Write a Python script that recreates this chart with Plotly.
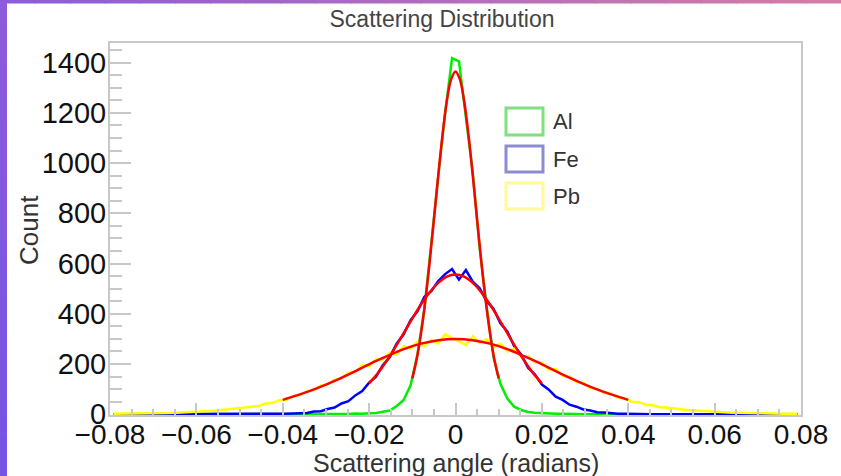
import numpy as np
import plotly.graph_objects as go

# ---------------- data ----------------
X_MIN, X_MAX, N_BINS = -0.08, 0.08, 100

AL_COUNTS = [0, 0, 0, 0, 0, 0, 0, 0, 0, 0,
             0, 0, 0, 0, 0, 0, 0, 0, 0, 0,
             0, 0, 0, 0, 0, 0, 0, 0, 0, 0,
             0, 0, 1, 1, 1, 3, 2, 4, 5, 10,
             15, 33, 57, 115, 240, 418, 668, 945, 1200, 1418,
             1405, 1185, 962, 660, 430, 228, 121, 62, 30, 17,
             9, 6, 4, 3, 2, 2, 1, 1, 0, 0,
             0, 0, 0, 0, 0, 0, 0, 0, 0, 0,
             0, 0, 0, 0, 0, 0, 0, 0, 0, 0,
             0, 0, 0, 0, 0, 0, 0, 0, 0, 0]

FE_COUNTS = [0, 0, 0, 0, 0, 0, 0, 0, 0, 0,
             0, 0, 0, 0, 0, 0, 0, 0, 0, 0,
             0, 1, 0, 1, 1, 2, 3, 4, 5, 11,
             12, 21, 27, 43, 52, 75, 92, 126, 150, 196,
             228, 282, 318, 375, 410, 468, 490, 530, 558, 578,
             536, 574, 528, 502, 450, 420, 362, 330, 270, 238,
             185, 158, 118, 98, 70, 57, 38, 30, 19, 15,
             8, 7, 4, 2, 2, 1, 0, 1, 0, 0,
             0, 0, 0, 0, 0, 0, 0, 0, 0, 0,
             0, 0, 0, 0, 0, 0, 0, 0, 0, 0]

PB_COUNTS = [2, 2, 3, 2, 3, 3, 4, 5, 5, 6,
             7, 8, 10, 11, 13, 15, 18, 22, 24, 27,
             31, 33, 43, 45, 56, 58, 72, 76, 92, 96,
             115, 118, 138, 142, 165, 168, 196, 191, 220, 218,
             245, 238, 272, 262, 289, 270, 296, 282, 318, 305,
             290, 276, 310, 284, 298, 265, 280, 250, 262, 228,
             232, 205, 206, 178, 180, 152, 150, 128, 125, 104,
             102, 85, 82, 66, 64, 50, 49, 38, 36, 28,
             27, 22, 20, 17, 15, 12, 11, 9, 8, 7,
             6, 5, 5, 4, 3, 3, 3, 2, 2, 2]

# Gaussian fit curves, sampled over each fit range (21 points each)
AL_FIT_RANGE = 0.01
AL_FIT = [142, 218, 320, 450, 604, 775, 950, 1113, 1247, 1334, 1365,
          1334, 1247, 1113, 950, 775, 604, 450, 320, 218, 142]
FE_FIT_RANGE = 0.02
FE_FIT = [123, 163, 211, 265, 323, 381, 437, 485, 523, 548, 556,
          548, 523, 485, 437, 381, 323, 265, 211, 163, 123]
PB_FIT_RANGE = 0.04
PB_FIT = [57, 79, 104, 133, 165, 199, 230, 259, 281, 295, 300,
          295, 281, 259, 230, 199, 165, 133, 104, 79, 57]

SERIES = ["Al", "Fe", "Pb"]
X_TICKS = [-0.08, -0.06, -0.04, -0.02, 0, 0.02, 0.04, 0.06, 0.08]
Y_TICKS = [0, 200, 400, 600, 800, 1000, 1200, 1400]

# ---------------- figure ----------------
W, H = 841, 476
L, R, T, B = 110, 40, 43, 61
PW, PH = W - L - R, H - T - B

def px(xp):
    return (xp - L) / PW

def py(yp):
    return (H - B - yp) / PH

width_bin = (X_MAX - X_MIN) / N_BINS
centers = X_MIN + (np.arange(N_BINS) + 0.5) * width_bin

fig = go.Figure()
hist_colors = {"Al": "#00ee00", "Fe": "#0000ff", "Pb": "#ffff00"}
for name, counts in zip(SERIES, [AL_COUNTS, FE_COUNTS, PB_COUNTS]):
    fig.add_trace(go.Scatter(x=centers, y=counts, mode="lines", name=name,
                             line=dict(color=hist_colors[name], width=2.5),
                             showlegend=False))

for rng, vals in [(AL_FIT_RANGE, AL_FIT), (FE_FIT_RANGE, FE_FIT), (PB_FIT_RANGE, PB_FIT)]:
    xs = np.linspace(-rng, rng, len(vals))
    fig.add_trace(go.Scatter(x=xs, y=vals, mode="lines",
                             line=dict(color="#ff0000", width=2.5, shape="spline", smoothing=1.0),
                             showlegend=False))

FONT = "Liberation Sans, Arial, sans-serif"
axis_col = "#c8c8c8"

fig.update_layout(
    width=W, height=H, autosize=False,
    margin=dict(l=L, r=R, t=T, b=B, pad=0),
    paper_bgcolor="white", plot_bgcolor="white",
    showlegend=False,
    font=dict(family=FONT, color="#111"),
    title=dict(text="Scattering Distribution", x=442 / W, xanchor="center",
               y=1 - 19 / H, yanchor="middle",
               font=dict(size=23, color="#444", family=FONT)),
)

fig.update_xaxes(range=[X_MIN, X_MAX], tickvals=X_TICKS,
                 ticks="inside", ticklen=12, tickwidth=2, tickcolor=axis_col,
                 minor=dict(ticks="inside", ticklen=6, tickwidth=2, tickcolor=axis_col, dtick=0.005),
                 showline=True, linecolor=axis_col, linewidth=2, mirror=True,
                 showgrid=False, zeroline=False, ticklabelstandoff=-7,
                 tickfont=dict(size=28, color="#111", family=FONT))
fig.update_yaxes(range=[-3, 1478], tickvals=Y_TICKS,
                 ticks="inside", ticklen=21, tickwidth=2, tickcolor=axis_col,
                 minor=dict(ticks="inside", ticklen=12, tickwidth=2, tickcolor=axis_col, dtick=50),
                 showline=True, linecolor=axis_col, linewidth=2, mirror=True,
                 showgrid=False, zeroline=False, ticklabelstandoff=-4,
                 tickfont=dict(size=29, color="#111", family=FONT))

annotations = [
    dict(text="Scattering angle (radians)", xref="paper", yref="paper",
         x=px(456), y=py(463), xanchor="center", yanchor="middle", showarrow=False,
         font=dict(size=25, color="#333", family=FONT)),
    dict(text="Count", xref="paper", yref="paper", textangle=-90,
         x=px(29), y=py(230), xanchor="center", yanchor="middle", showarrow=False,
         font=dict(size=26, color="#333", family=FONT)),
]

shapes = []
# legend boxes
legend_boxes = [("Al", "#7fe07f", 108, 135, 121),
                ("Fe", "#8c8cd2", 146, 172, 159),
                ("Pb", "#fffa96", 183, 209, 196)]
for name, col, y0, y1, yc in legend_boxes:
    shapes.append(dict(type="rect", xref="paper", yref="paper",
                       x0=px(506), x1=px(543), y0=py(y1), y1=py(y0),
                       line=dict(color=col, width=3), fillcolor="white"))
    annotations.append(dict(text=name, xref="paper", yref="paper", x=px(551), y=py(yc),
                            xanchor="left", yanchor="middle", showarrow=False,
                            font=dict(size=22, color="#333", family=FONT)))

# purple page border strips
n_seg = 24
c0 = np.array([140, 92, 218])
c1 = np.array([212, 124, 165])
for i in range(n_seg):
    f = i / (n_seg - 1)
    c = (c0 * (1 - f) + c1 * f).astype(int)
    shapes.append(dict(type="rect", xref="paper", yref="paper",
                       x0=px(W * i / n_seg), x1=px(W * (i + 1) / n_seg + 1),
                       y0=py(3.5), y1=py(0), line=dict(width=0),
                       fillcolor=f"rgb({c[0]},{c[1]},{c[2]})"))
l0 = np.array([140, 92, 218])
l1 = np.array([118, 84, 228])
for i in range(n_seg):
    f = i / (n_seg - 1)
    c = (l0 * (1 - f) + l1 * f).astype(int)
    shapes.append(dict(type="rect", xref="paper", yref="paper",
                       x0=px(0), x1=px(7),
                       y0=py(H * (i + 1) / n_seg + 1), y1=py(H * i / n_seg),
                       line=dict(width=0),
                       fillcolor=f"rgb({c[0]},{c[1]},{c[2]})"))

fig.update_layout(annotations=annotations, shapes=shapes)

fig.write_html("out.html", config={"displayModeBar": False},
               post_script="document.body.style.margin='0';document.body.style.overflow='hidden';")
